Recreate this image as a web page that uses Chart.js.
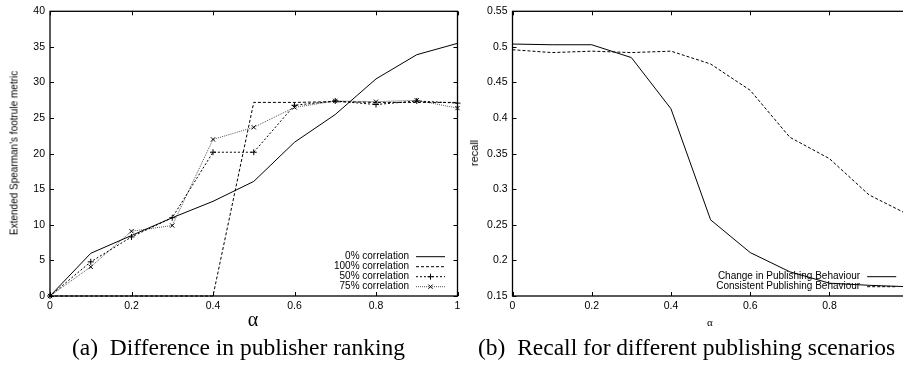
<!DOCTYPE html>
<html>
<head>
<meta charset="utf-8">
<script src="https://cdn.jsdelivr.net/npm/chart.js@4.4.0/dist/chart.umd.min.js"></script>
<style>
html, body { margin: 0; padding: 0; background: #fff; overflow: hidden; width: 903px; height: 365px; }
canvas { position: absolute; top: 0; }
.txt { position: absolute; white-space: nowrap; color: #000; transform: translate(-50%, -50%); }
.sans { font-family: "Liberation Sans", Arial, sans-serif; }
.serif { font-family: "Liberation Serif", "Times New Roman", serif; }
.rot { transform: translate(-50%, -50%) rotate(-90deg); }
.cap { position: absolute; white-space: nowrap; font-family: "Liberation Serif", serif; font-size: 23.5px; transform: translateY(-50%); }
</style>
</head>
<body>
<canvas id="left" width="470" height="320" style="left:0"></canvas>
<canvas id="right" width="460" height="320" style="left:460px"></canvas>

<div class="txt sans rot" style="left:14px;top:153px;font-size:10px">Extended Spearman's footrule metric</div>
<div class="txt serif" style="left:253px;top:319px;font-size:20px">α</div>
<div class="txt sans rot" style="left:474px;top:153px;font-size:11px">recall</div>
<div class="txt serif" style="left:710px;top:322px;font-size:11px">α</div>
<div class="cap" style="left:72px;top:347px">(a)&nbsp; Difference in publisher ranking</div>
<div class="cap" style="left:478px;top:347px">(b)&nbsp; Recall for different publishing scenarios</div>

<script>
// data
const alpha = [0, 0.1, 0.2, 0.3, 0.4, 0.5, 0.6, 0.7, 0.8, 0.9, 1.0];

const corr0   = [0, 6.0, 8.5, 11.0, 13.3, 16.1, 21.6, 25.5, 30.5, 33.9, 35.5];
const corr100 = [0, 0, 0, 0, 0, 27.2, 27.2, 27.3, 27.2, 27.2, 27.2];
const corr50  = [0, 4.8, 8.3, 11.0, 20.2, 20.2, 26.8, 27.4, 26.9, 27.4, 27.1];
const corr75  = [0, 4.1, 9.1, 9.9, 22.0, 23.7, 26.5, 27.4, 27.3, 27.5, 26.4];

const changeBehaviour     = [0.504, 0.503, 0.503, 0.485, 0.413, 0.257, 0.211, 0.184, 0.168, 0.165, 0.163];
const consistentBehaviour = [0.496, 0.492, 0.494, 0.492, 0.494, 0.476, 0.439, 0.373, 0.343, 0.292, 0.264];

const leftYTicks = [0, 5, 10, 15, 20, 25, 30, 35, 40];
const rightYTicks = [0.15, 0.2, 0.25, 0.3, 0.35, 0.4, 0.45, 0.5, 0.55];

const FONT = { family: '"Liberation Sans", Arial, sans-serif', size: 10.5 };

function pts(ys){
  return alpha.map((a, i) => ({ x: a, y: ys[i] }));
}

// gnuplot prints 0.5 not 0.50, 1 not 1.0
function plain(v){
  return String(Math.round(v * 1000) / 1000);
}

// gnuplot style box with inward ticks on all four sides
const framePlugin = {
  id: 'frame',
  afterDatasetsDraw(chart){
    const ctx = chart.ctx;
    const a = chart.chartArea;
    const xs = chart.scales.x, ys = chart.scales.y;
    const L = 4;
    ctx.save();
    ctx.strokeStyle = '#000';
    ctx.lineWidth = 1;
    ctx.beginPath();
    xs.ticks.forEach(t => {
      const p = Math.round(xs.getPixelForValue(t.value)) + 0.5;
      ctx.moveTo(p, a.bottom); ctx.lineTo(p, a.bottom - L);
      ctx.moveTo(p, a.top); ctx.lineTo(p, a.top + L);
    });
    ys.ticks.forEach(t => {
      const p = Math.round(ys.getPixelForValue(t.value)) + 0.5;
      ctx.moveTo(a.left, p); ctx.lineTo(a.left + L, p);
      ctx.moveTo(a.right, p); ctx.lineTo(a.right - L, p);
    });
    ctx.stroke();
    ctx.lineWidth = 1.3;
    ctx.strokeRect(a.left, a.top, a.right - a.left, a.bottom - a.top);
    ctx.restore();
  }
};

// key in the lower right corner: text first, then line sample
const keyPlugin = {
  id: 'gpKey',
  afterDraw(chart){
    const ctx = chart.ctx;
    const a = chart.chartArea;
    const sets = chart.data.datasets;
    const n = sets.length;
    ctx.save();
    ctx.font = '10px "Liberation Sans", Arial, sans-serif';
    ctx.textAlign = 'right';
    ctx.textBaseline = 'middle';
    sets.forEach((ds, i) => {
      const y = a.bottom - 9.3 - 10 * (n - 1 - i);
      ctx.fillStyle = '#000';
      ctx.fillText(ds.label, a.right - 48.5, y);
      const x0 = a.right - 41.5, x1 = a.right - 12.5;
      ctx.strokeStyle = ds.borderColor;
      ctx.lineWidth = ds.borderWidth;
      ctx.setLineDash(ds.borderDash || []);
      ctx.beginPath();
      ctx.moveTo(x0, y); ctx.lineTo(x1, y);
      ctx.stroke();
      ctx.setLineDash([]);
      if(ds.pointRadius > 0){
        ctx.strokeStyle = '#000';
        Chart.helpers.drawPoint(ctx, {
          pointStyle: ds.pointStyle, radius: ds.pointRadius, rotation: 0,
          borderWidth: 1
        }, (x0 + x1) / 2, y);
      }
    });
    ctx.restore();
  }
};

function lineSet(label, ys, dash, color, style){
  return {
    label: label,
    data: pts(ys),
    borderColor: color,
    backgroundColor: color,
    borderWidth: 1,
    borderDash: dash,
    tension: 0,
    fill: false,
    pointStyle: style || 'circle',
    pointRadius: style ? 3 : 0,
    pointBorderColor: '#000',
    pointBorderWidth: 1,
    clip: 6
  };
}

function makeChart(id, datasets, yMin, yMax, yStep, yWidth, padRight){
  return new Chart(document.getElementById(id).getContext('2d'), {
    type: 'line',
    data: { datasets: datasets },
    options: {
      responsive: false,
      animation: false,
      layout: { padding: { top: 10.5, right: padRight, left: 0, bottom: 0 } },
      plugins: { legend: { display: false }, tooltip: { enabled: false } },
      scales: {
        x: {
          type: 'linear', min: 0, max: 1,
          ticks: { stepSize: 0.2, font: FONT, color: '#000', padding: 4, maxRotation: 0, callback: plain },
          grid: { display: false, drawTicks: false },
          border: { display: false },
          afterFit(s){ s.height = 24; }
        },
        y: {
          type: 'linear', min: yMin, max: yMax,
          ticks: { stepSize: yStep, font: FONT, color: '#000', padding: 5, callback: plain },
          grid: { display: false, drawTicks: false },
          border: { display: false },
          afterFit(s){ s.width = yWidth; }
        }
      }
    },
    plugins: [framePlugin, keyPlugin]
  });
}

makeChart('left', [
  lineSet('0% correlation', corr0, [], '#000'),
  lineSet('100% correlation', corr100, [3, 2], '#000'),
  lineSet('50% correlation', corr50, [2, 2], '#000', 'cross'),
  lineSet('75% correlation', corr75, [1, 1], '#555', 'crossRot')
], leftYTicks[0], leftYTicks[leftYTicks.length - 1], 5, 50, 12.5);

makeChart('right', [
  lineSet('Change in Publishing Behaviour', changeBehaviour, [], '#000'),
  lineSet('Consistent Publishing Behaviour', consistentBehaviour, [3, 2], '#000')
], rightYTicks[0], rightYTicks[rightYTicks.length - 1], 0.05, 52.5, 11.3);
</script>
</body>
</html>
